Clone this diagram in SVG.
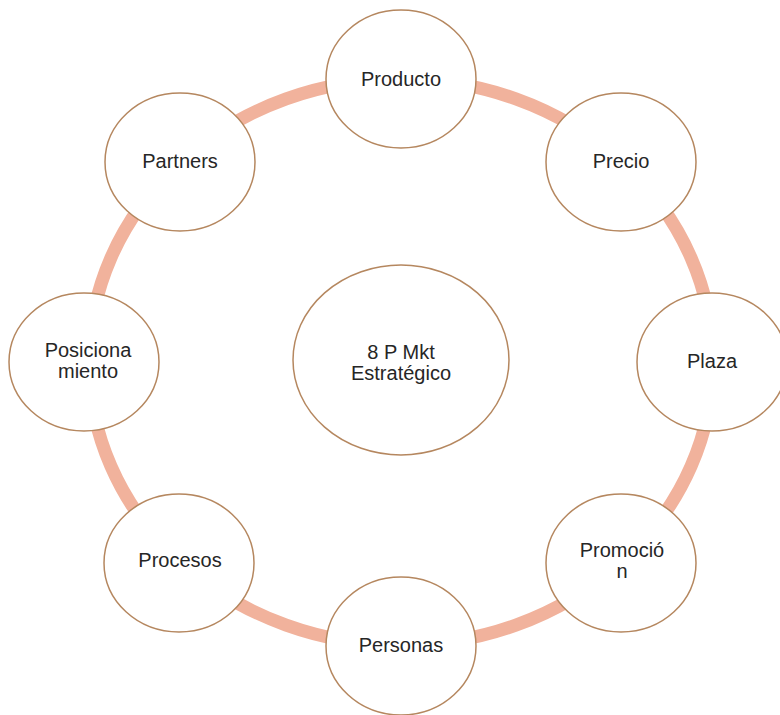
<svg xmlns="http://www.w3.org/2000/svg" width="780" height="715" viewBox="0 0 780 715">
<style>
.node{fill:#ffffff;stroke:#b5875f;stroke-width:1.5}
.lbl{font-family:"Liberation Sans",Arial,sans-serif;font-size:20px;fill:#262626;text-anchor:middle}
.ring{fill:none;stroke:#f1b29c;stroke-width:13}
</style>
<rect width="780" height="715" fill="#ffffff"/>
<g id="connectors">
<ellipse class="ring" cx="401" cy="362" rx="312" ry="283"/>
</g>
<g id="center">
<ellipse class="node" cx="401" cy="360" rx="108" ry="95"/>
<text class="lbl" x="401" y="359">8 P Mkt</text>
<text class="lbl" x="401" y="380">Estratégico</text>
</g>
<g id="producto">
<ellipse class="node" cx="401" cy="79" rx="75" ry="69"/>
<text class="lbl" x="401" y="86">Producto</text>
</g>
<g id="precio">
<ellipse class="node" cx="621" cy="162" rx="75" ry="69"/>
<text class="lbl" x="621" y="168">Precio</text>
</g>
<g id="plaza">
<ellipse class="node" cx="712" cy="362" rx="75" ry="69"/>
<text class="lbl" x="712" y="368">Plaza</text>
</g>
<g id="promocion">
<ellipse class="node" cx="621" cy="563" rx="75" ry="69"/>
<text class="lbl" x="622" y="557">Promoció</text>
<text class="lbl" x="622" y="578">n</text>
</g>
<g id="personas">
<ellipse class="node" cx="401" cy="646" rx="75" ry="69"/>
<text class="lbl" x="401" y="652">Personas</text>
</g>
<g id="procesos">
<ellipse class="node" cx="179" cy="563" rx="75" ry="69"/>
<text class="lbl" x="180" y="567">Procesos</text>
</g>
<g id="posicionamiento">
<ellipse class="node" cx="84" cy="362" rx="75" ry="69"/>
<text class="lbl" x="88" y="357">Posiciona</text>
<text class="lbl" x="88" y="378">miento</text>
</g>
<g id="partners">
<ellipse class="node" cx="180" cy="162" rx="75" ry="69"/>
<text class="lbl" x="180" y="168">Partners</text>
</g>
</svg>
